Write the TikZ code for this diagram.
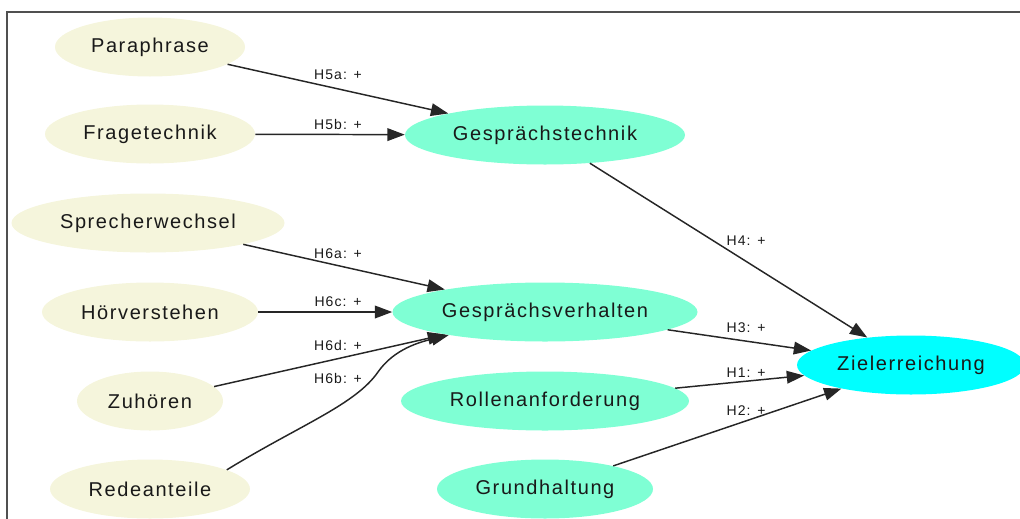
\documentclass[tikz,border=0pt]{standalone}
\usepackage{fontspec}
\setmainfont{Liberation Sans}[LetterSpace=8]
\usetikzlibrary{shapes.geometric,arrows.meta}
\definecolor{gvbeige}{HTML}{F5F5DC}
\definecolor{gvaqua}{HTML}{7FFFD4}
\definecolor{gvcyan}{HTML}{00FFFF}
\definecolor{framegray}{HTML}{505050}
\tikzset{
  var/.style={ellipse, draw=none, inner sep=0pt, minimum height=44.25pt,
    font=\fontsize{15pt}{18pt}\selectfont, text=black!90},
  exo/.style={var, fill=gvbeige},
  mid/.style={var, fill=gvaqua},
  goal/.style={var, fill=gvcyan},
  lbl/.style={inner sep=0pt, font=\fontsize{10.5pt}{12pt}\selectfont, text=black!90},
  edge/.style={line width=1.1pt, black!85, -{Triangle[length=13pt,width=9.5pt]}}
}
\begin{document}
\begin{tikzpicture}[x=0.75pt,y=-0.75pt]
\useasboundingbox (0,0) rectangle (1020,518);
% frame
\draw[framegray, line width=1.5pt] (7,520) -- (7,12) -- (1022,12);

% input variables
\node[exo, minimum width=142.5pt] (para) at (150,47) {Paraphrase};
\node[exo, minimum width=157.5pt] (frage) at (150,134) {Fragetechnik};
\node[exo, minimum width=204.75pt] (sprech) at (148,223) {Sprecherwechsel};
\node[exo, minimum width=162pt] (hoer) at (150,312) {Hörverstehen};
\node[exo, minimum width=109.5pt] (zuh) at (150,401) {Zuhören};
\node[exo, minimum width=150pt] (rede) at (150,489) {Redeanteile};

% mediators
\node[mid, minimum width=210pt] (gtech) at (545,135) {Gesprächstechnik};
\node[mid, minimum width=228.75pt] (gverh) at (545,312) {Gesprächsverhalten};
\node[mid, minimum width=216pt] (rolle) at (545,401) {Rollenanforderung};
\node[mid, minimum width=162pt] (grund) at (545,489) {Grundhaltung};

% outcome
\node[goal, minimum width=171pt] (ziel) at (911,365) {Zielerreichung};

% hypotheses
\draw[edge] (para) -- (gtech);
\draw[edge] (frage) -- (gtech);
\draw[edge] (sprech) -- (gverh);
\draw[edge] (hoer) -- (gverh);
\draw[edge] (zuh) -- (gverh);
\draw[edge] (rede.14) .. controls (300,425) and (355,405) .. (378,372)
  .. controls (394,349) and (420,342) .. (gverh);
\draw[edge] (gtech) -- (ziel);
\draw[edge] (gverh) -- (ziel);
\draw[edge] (rolle) -- (ziel);
\draw[edge] (grund) -- (ziel);

% edge labels
\node[lbl] (l5a) at (338,75) {H5a: +};
\node[lbl] (l5b) at (338,124) {H5b: +};
\node[lbl] (l6a) at (338,254) {H6a: +};
\node[lbl] (l6c) at (338,302) {H6c: +};
\node[lbl] (l6d) at (338,345) {H6d: +};
\node[lbl] (l6b) at (338,378) {H6b: +};
\node[lbl] (l4) at (746,241) {H4: +};
\node[lbl] (l3) at (746,328) {H3: +};
\node[lbl] (l1) at (746,373) {H1: +};
\node[lbl] (l2) at (746,411) {H2: +};
\end{tikzpicture}
\end{document}
